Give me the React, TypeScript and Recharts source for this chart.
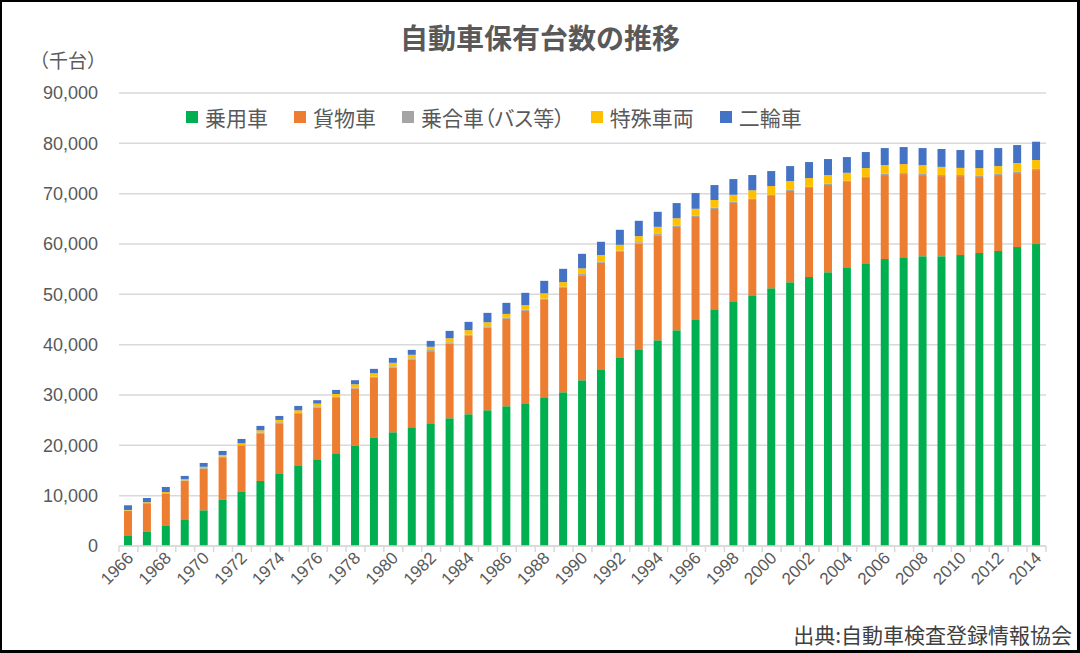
import { BarChart, Bar, XAxis, YAxis, CartesianGrid, Legend } from "recharts";

// 単位: 千台
const YEARS = [
  "1966", "1967", "1968", "1969", "1970", "1971", "1972", "1973", "1974", "1975",
  "1976", "1977", "1978", "1979", "1980", "1981", "1982", "1983", "1984", "1985",
  "1986", "1987", "1988", "1989", "1990", "1991", "1992", "1993", "1994", "1995",
  "1996", "1997", "1998", "1999", "2000", "2001", "2002", "2003", "2004", "2005",
  "2006", "2007", "2008", "2009", "2010", "2011", "2012", "2013", "2014",
];

const PASSENGER = [
  2130, 2920, 3980, 5310, 7100, 9150, 10870, 12920, 14450, 16040,
  17240, 18430, 19880, 21470, 22600, 23600, 24390, 25390, 26180, 26980,
  27770, 28370, 29560, 30560, 32940, 35130, 37370, 39100, 40890, 42880,
  45070, 47060, 48650, 49840, 51230, 52420, 53420, 54410, 55210, 56200,
  57000, 57390, 57590, 57590, 57790, 58190, 58590, 59380, 59980,
];

const TRUCK = [
  4830, 5570, 6440, 7610, 8210, 8490, 9010, 9480, 9940, 10200,
  10280, 10990, 11410, 11930, 12860, 13460, 14310, 14850, 15570, 16440,
  17360, 18350, 19340, 20730, 20870, 21130, 21070, 21010, 20870, 20480,
  20280, 19880, 19480, 18890, 18290, 18090, 17690, 17300, 17100, 16900,
  16700, 16500, 16100, 15900, 15700, 15110, 15110, 14710, 14710,
];

const BUS = [
  90, 90, 110, 120, 150, 150, 160, 170, 190, 200,
  210, 220, 220, 230, 230, 230, 230, 230, 230, 230,
  230, 230, 240, 240, 250, 250, 250, 250, 250, 250,
  250, 250, 250, 240, 240, 240, 240, 240, 240, 230,
  230, 230, 230, 230, 230, 230, 230, 230, 230,
];

const SPECIAL = [
  110, 120, 180, 230, 280, 300, 350, 420, 470, 520,
  560, 560, 620, 700, 700, 700, 650, 800, 900, 800,
  750, 900, 1050, 900, 1100, 1300, 1150, 1200, 1400, 1500,
  1400, 1550, 1400, 1700, 1750, 1750, 1750, 1750, 1600, 1750,
  1750, 1750, 1750, 1600, 1400, 1550, 1550, 1750, 1760,
];

const MOTORCYCLE = [
  930, 840, 1020, 650, 760, 800, 880, 870, 790, 870,
  680, 810, 810, 860, 980, 980, 1170, 1470, 1650, 1870,
  2200, 2450, 2490, 2640, 2890, 2630, 2980, 3050, 2990, 3020,
  3120, 2970, 3120, 3030, 2980, 2980, 3180, 3180, 3120, 3190,
  3380, 3390, 3390, 3550, 3550, 3590, 3580, 3590, 3640,
];

const Y_TICKS = [0, 10000, 20000, 30000, 40000, 50000, 60000, 70000, 80000, 90000];

const SERIES = [
  { key: "passenger", name: "乗用車", color: "#00b050", values: PASSENGER },
  { key: "truck", name: "貨物車", color: "#ed7d31", values: TRUCK },
  { key: "bus", name: "乗合車（バス等）", color: "#a5a5a5", values: BUS },
  { key: "special", name: "特殊車両", color: "#ffc000", values: SPECIAL },
  { key: "motorcycle", name: "二輪車", color: "#4472c4", values: MOTORCYCLE },
];

const data = YEARS.map((year, i) => {
  const row: Record<string, string | number> = { year };
  SERIES.forEach((s) => {
    row[s.key] = s.values[i];
  });
  return row;
});

const W = 1080;
const H = 653;
const LEFT = 119;
const RIGHT = 34;
const TOP = 93;
const X_AXIS_H = 107;
const STEP = (W - LEFT - RIGHT) / YEARS.length;

const JP = '"Noto Sans CJK JP", sans-serif';
const NUM = '"Liberation Sans", Arial, sans-serif';
const TEXT = "#595959";

function YearTick(props: any) {
  const { x, y, payload, index } = props;
  const last = index === YEARS.length - 1;
  return (
    <g>
      <line x1={x - STEP / 2} x2={x - STEP / 2} y1={y} y2={y + 6} stroke="#d9d9d9" strokeWidth={1.5} />
      {last && <line x1={x + STEP / 2} x2={x + STEP / 2} y1={y} y2={y + 6} stroke="#d9d9d9" strokeWidth={1.5} />}
      {index % 2 === 0 && (
        <text
          transform={`translate(${x + 6},${y + 13}) rotate(-45)`}
          textAnchor="end"
          fontSize={17}
          fontFamily={NUM}
          fill={TEXT}
        >
          {payload.value}
        </text>
      )}
    </g>
  );
}

// keep the legend in series order (recharts sorts it by name otherwise)
function renderLegend(props: any) {
  const items = [...(props.payload || [])].sort(
    (a: any, b: any) =>
      SERIES.findIndex((s) => s.name === a.value) - SERIES.findIndex((s) => s.name === b.value)
  );
  return (
    <div style={{ display: "flex", alignItems: "center", fontFamily: JP, fontSize: 21, lineHeight: "24px", color: TEXT, whiteSpace: "nowrap", fontFeatureSettings: '"palt"' }}>
      {items.map((entry: any) => (
        <div key={entry.value} style={{ display: "flex", alignItems: "center", marginRight: 26 }}>
          <span style={{ width: 12, height: 12, background: entry.color, marginRight: 7, display: "inline-block" }} />
          <span>{entry.value}</span>
        </div>
      ))}
    </div>
  );
}

export default function App() {
  return (
    <div style={{ position: "absolute", left: 0, top: 0, width: W, height: H, background: "#fff" }}>
      <BarChart width={W} height={H} data={data} margin={{ top: TOP, right: RIGHT, bottom: 0, left: 0 }} barSize={8}>
        <CartesianGrid horizontal vertical={false} stroke="#d9d9d9" strokeWidth={1.5} />
        <XAxis
          dataKey="year"
          height={X_AXIS_H}
          interval={0}
          tickLine={false}
          tickSize={0}
          tickMargin={0}
          axisLine={{ stroke: "#d9d9d9", strokeWidth: 1.5 }}
          tick={<YearTick />}
        />
        <YAxis
          width={LEFT}
          domain={[0, 90000]}
          ticks={Y_TICKS}
          axisLine={false}
          tickLine={false}
          tickMargin={15}
          tickFormatter={(v: number) => v.toLocaleString("en-US")}
          tick={{ fontSize: 18, fill: TEXT, fontFamily: NUM }}
        />
        <Legend
          layout="horizontal"
          verticalAlign="middle"
          align="center"
          wrapperStyle={{ top: 105, left: 186, width: "auto" }}
          content={renderLegend}
        />
        {SERIES.map((s) => (
          <Bar key={s.key} dataKey={s.key} name={s.name} stackId="a" fill={s.color} isAnimationActive={false} />
        ))}
      </BarChart>
      <div style={{ position: "absolute", top: 18, left: 0, width: W, textAlign: "center", fontFamily: JP, fontSize: 28, fontWeight: 700, lineHeight: "38px", color: TEXT }}>
        自動車保有台数の推移
      </div>
      <div style={{ position: "absolute", top: 47, left: 30, fontFamily: JP, fontSize: 19, lineHeight: "26px", color: TEXT }}>
        （千台）
      </div>
      <div style={{ position: "absolute", top: 621, right: 8, fontFamily: JP, fontSize: 21, lineHeight: "26px", color: "#404040" }}>
        出典:自動車検査登録情報協会
      </div>
      <div style={{ position: "absolute", left: 0, top: 0, width: W, height: H, boxSizing: "border-box", borderStyle: "solid", borderColor: "#000", borderWidth: "2px 3px 3px 2px", pointerEvents: "none" }} />
    </div>
  );
}
